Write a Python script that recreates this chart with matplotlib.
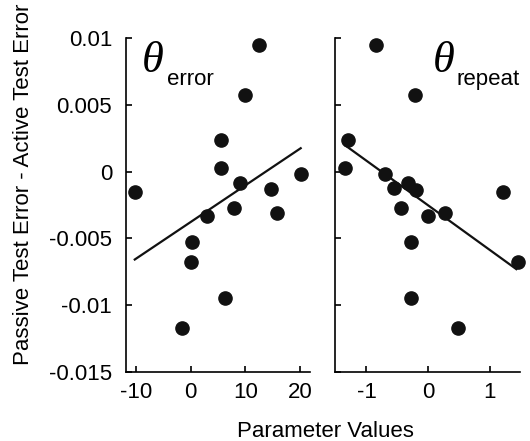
import matplotlib
matplotlib.use("Agg")
import matplotlib.pyplot as plt
import numpy as np

plt.rcParams['font.family'] = ['Liberation Sans', 'DejaVu Sans']

# Left panel: theta_error
err_x = [-10.2, 12.4, 9.9, 5.5, 5.6, 9.0, 14.6, 20.2, 7.9, 15.8, 2.9, 0.3, 0.1, 6.2, -1.6]
err_y = [-0.00155, 0.00945, 0.0057, 0.0024, 0.00025, -0.00088, -0.0013, -0.00018,
         -0.00275, -0.0031, -0.0033, -0.0053, -0.0068, -0.00945, -0.0117]
err_fit_x = [-10.2, 20.1]
err_fit_y = [-0.00658, 0.00175]

# Right panel: theta_repeat
rep_x = [-0.85, -0.22, -1.30, -1.34, -0.70, -0.56, -0.32, -0.19, -0.44, -0.01, 0.28,
         1.21, -0.28, 1.45, -0.28, 0.49]
rep_y = [0.0095, 0.0057, 0.0024, 0.00025, -0.00018, -0.00125, -0.00083, -0.00138,
         -0.00275, -0.0033, -0.0031, -0.00155, -0.0053, -0.0068, -0.00945, -0.0117]
rep_fit_x = [-1.34, 1.43]
rep_fit_y = [0.00195, -0.0073]

yticks = [0.01, 0.005, 0, -0.005, -0.01, -0.015]
ytick_labels = ['0.01', '0.005', '0', '-0.005', '-0.01', '-0.015']
err_xticks = [-10, 0, 10, 20]
rep_xticks = [-1, 0, 1]

W, H = 530, 441
fig = plt.figure(figsize=(W / 100, H / 100), dpi=100)

def px_axes(x0, x1, y0, y1):
    return fig.add_axes([x0 / W, 1 - y1 / H, (x1 - x0) / W, (y1 - y0) / H])

ax1 = px_axes(126, 310, 38, 372)
ax2 = px_axes(335, 520, 38, 372)

FS = 16
for ax in (ax1, ax2):
    ax.spines['top'].set_visible(False)
    ax.spines['right'].set_visible(False)
    ax.spines['left'].set_linewidth(1.2)
    ax.spines['bottom'].set_linewidth(1.2)
    ax.set_ylim(-0.015, 0.01)
    ax.set_yticks(yticks)
    ax.tick_params(direction='in', length=4, width=1.2, labelsize=FS)
    ax.tick_params(axis='y', pad=10)
    ax.tick_params(axis='x', pad=7)
    ax.patch.set_alpha(0)

ax1.set_yticklabels(ytick_labels)
ax2.set_yticklabels([])

ax1.set_xlim(-11.8, 21.8)
ax1.set_xticks(err_xticks)
ax1.set_xticklabels([str(t) for t in err_xticks])
ax2.set_xlim(-1.51, 1.49)
ax2.set_xticks(rep_xticks)
ax2.set_xticklabels([str(t) for t in rep_xticks])

ax1.plot(err_x, err_y, 'o', color='#111111', ms=9.5, clip_on=False)
ax1.plot(err_fit_x, err_fit_y, '-', color='#111111', lw=1.6)
ax2.plot(rep_x, rep_y, 'o', color='#111111', ms=9.5, clip_on=False)
ax2.plot(rep_fit_x, rep_fit_y, '-', color='#111111', lw=1.6)

# Labels
fig.text(142 / W, 1 - 72 / H, '\u03b8', family='Liberation Serif', style='italic', fontsize=32,
         va='baseline', ha='left')
fig.text(167 / W, 1 - 85 / H, 'error', fontsize=16, va='baseline', ha='left')
fig.text(433 / W, 1 - 72 / H, '\u03b8', family='Liberation Serif', style='italic', fontsize=32,
         va='baseline', ha='left')
fig.text(457 / W, 1 - 85 / H, 'repeat', fontsize=16, va='baseline', ha='left')

fig.text(325 / W, 1 - 437 / H, 'Parameter Values', fontsize=FS, ha='center', va='baseline')
fig.text(24 / W, 1 - 184 / H, 'Passive Test Error - Active Test Error', fontsize=FS,
         rotation=90, ha='center', va='center')

fig.savefig('out.png', dpi=100)
